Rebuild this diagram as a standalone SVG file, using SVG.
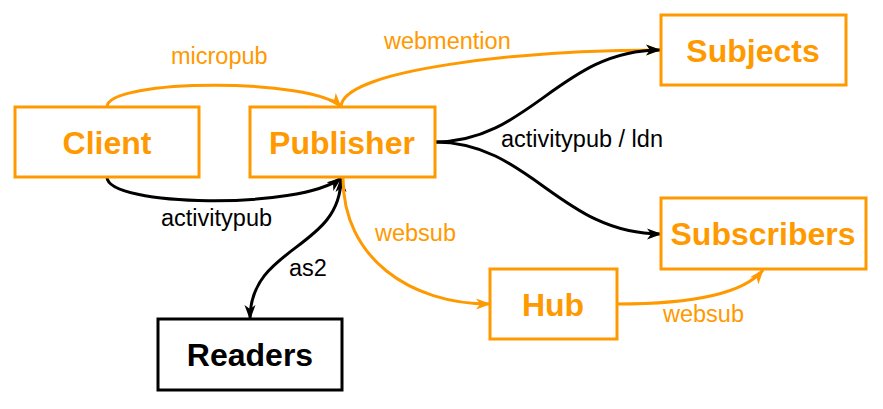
<svg xmlns="http://www.w3.org/2000/svg" width="883" height="409" viewBox="0 0 883 409">
  <style>
    .box { fill: #ffffff; stroke-width: 3; }
    .o { stroke: #ff9900; }
    .k { stroke: #000000; }
    .title { font-family: "Liberation Sans", Arial, sans-serif; font-weight: bold; font-size: 32px; text-anchor: middle; }
    .to { fill: #ff9900; }
    .tk { fill: #000000; }
    .lbl { font-family: "Liberation Sans", Arial, sans-serif; font-size: 23.5px; }
    .edge { fill: none; stroke-width: 3; }
  </style>
  <defs>
    <marker id="arrO" markerUnits="userSpaceOnUse" markerWidth="16" markerHeight="12" refX="14" refY="6" orient="auto-start-reverse" viewBox="0 0 16 12">
      <path d="M0,0.5 L15,6 L0,11.5 L4,6 Z" fill="#ff9900"/>
    </marker>
    <marker id="arrK" markerUnits="userSpaceOnUse" markerWidth="16" markerHeight="12" refX="14" refY="6" orient="auto-start-reverse" viewBox="0 0 16 12">
      <path d="M0,0.5 L15,6 L0,11.5 L4,6 Z" fill="#000000"/>
    </marker>
  </defs>
  <rect width="883" height="409" fill="#ffffff"/>

  <g id="connectors">
    <path class="edge o" d="M107,107 C107,78 315,78 341,107" marker-end="url(#arrO)"/>
    <path class="edge o" d="M341,107 C341,70 520,50 660,50" marker-end="url(#arrO)"/>
    <path class="edge k" d="M107,177 C107,207 300,210 341,178" marker-end="url(#arrK)"/>
    <path class="edge k" d="M341,178 C341,250 250,245 250,319" marker-start="url(#arrK)" marker-end="url(#arrK)"/>
    <path class="edge k" d="M435,142 C530,142 560,50 660,50" marker-end="url(#arrK)"/>
    <path class="edge k" d="M435,142 C530,142 560,234 661,234" marker-end="url(#arrK)"/>
    <path class="edge o" d="M343,178 C343,258 410,304 490,304" marker-end="url(#arrO)"/>
    <path class="edge o" d="M617,304 C700,304 745,292 763,270" marker-end="url(#arrO)"/>
    <text class="lbl to" x="171" y="64">micropub</text>
    <text class="lbl to" x="384" y="49">webmention</text>
    <text class="lbl tk" x="501" y="147">activitypub / ldn</text>
    <text class="lbl tk" x="161" y="226">activitypub</text>
    <text class="lbl tk" x="289" y="276">as2</text>
    <text class="lbl to" x="375" y="241">websub</text>
    <text class="lbl to" x="663" y="322">websub</text>
  </g>

  <g id="client">
    <rect class="box o" x="15" y="107" width="184" height="70"/>
    <text class="title to" x="107" y="154">Client</text>
  </g>
  <g id="publisher">
    <rect class="box o" x="250" y="107" width="185" height="70"/>
    <text class="title to" x="342" y="154">Publisher</text>
  </g>
  <g id="subjects">
    <rect class="box o" x="661" y="15" width="185" height="70"/>
    <text class="title to" x="753" y="62">Subjects</text>
  </g>
  <g id="subscribers">
    <rect class="box o" x="661" y="198" width="205" height="71"/>
    <text class="title to" x="763" y="245">Subscribers</text>
  </g>
  <g id="hub">
    <rect class="box o" x="490" y="269" width="127" height="70"/>
    <text class="title to" x="553" y="316">Hub</text>
  </g>
  <g id="readers">
    <rect class="box k" x="158" y="319" width="184" height="71"/>
    <text class="title tk" x="250" y="366">Readers</text>
  </g>
</svg>
